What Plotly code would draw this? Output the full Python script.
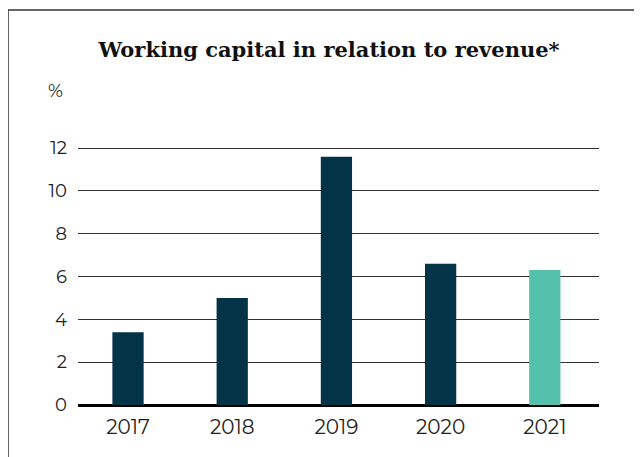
import plotly.graph_objects as go

years = ["2017", "2018", "2019", "2020", "2021"]
values = [3.4, 5.0, 11.6, 6.6, 6.3]
colors = ["#033347", "#033347", "#033347", "#033347", "#55C1AC"]
y_ticks = [0, 2, 4, 6, 8, 10, 12]

OFF = 8  # page body margin
W, H = 642 - OFF, 457 - OFF
L, R, T, B = 78 - OFF, 43, 147 - OFF, 52
pw, ph = W - L - R, H - T - B
ymax = 12.05

fig = go.Figure(go.Bar(x=years, y=values, marker_color=colors, width=0.3, marker_line_width=0))

bx = (0 - L) / pw
by = (H - B - 2) / ph
fig.add_shape(type="path", xref="paper", yref="paper",
              path=f"M {bx},-0.3 L {bx},{by} L 1.2,{by}",
              line=dict(color="#333333", width=1.5))

fig.update_layout(
    width=W, height=H,
    margin=dict(l=L, r=R, t=T, b=B),
    paper_bgcolor="white", plot_bgcolor="white",
    showlegend=False,
    title=dict(text="<b>Working capital in relation to revenue*</b>",
               x=(329 - OFF) / W, xref="container", xanchor="center", y=1 - 42 / H, yanchor="middle",
               font=dict(family="DejaVu Serif", size=21, color="#111111")),
    annotations=[dict(text="%", xref="paper", yref="paper", x=(47 - L) / pw, y=(H - B - 83) / ph,
                      xanchor="center", yanchor="middle",
                      showarrow=False, font=dict(family="Montserrat, Lato, sans-serif", size=18, color="#222222"))],
    xaxis=dict(range=[-0.48, 4.52], tickfont=dict(family="Montserrat, Lato, sans-serif", size=20, color="#222222"),
               showgrid=False, showline=False, ticks="", ticklabelstandoff=8),
    yaxis=dict(range=[0, ymax], tickvals=y_ticks, showgrid=True, gridcolor="#333333", gridwidth=1,
               zeroline=True, zerolinecolor="#000000", zerolinewidth=2.5,
               tickfont=dict(family="Montserrat, Lato, sans-serif", size=18, color="#222222"),
               ticklabelstandoff=10, showline=False),
)

fig.write_html("out.html")
